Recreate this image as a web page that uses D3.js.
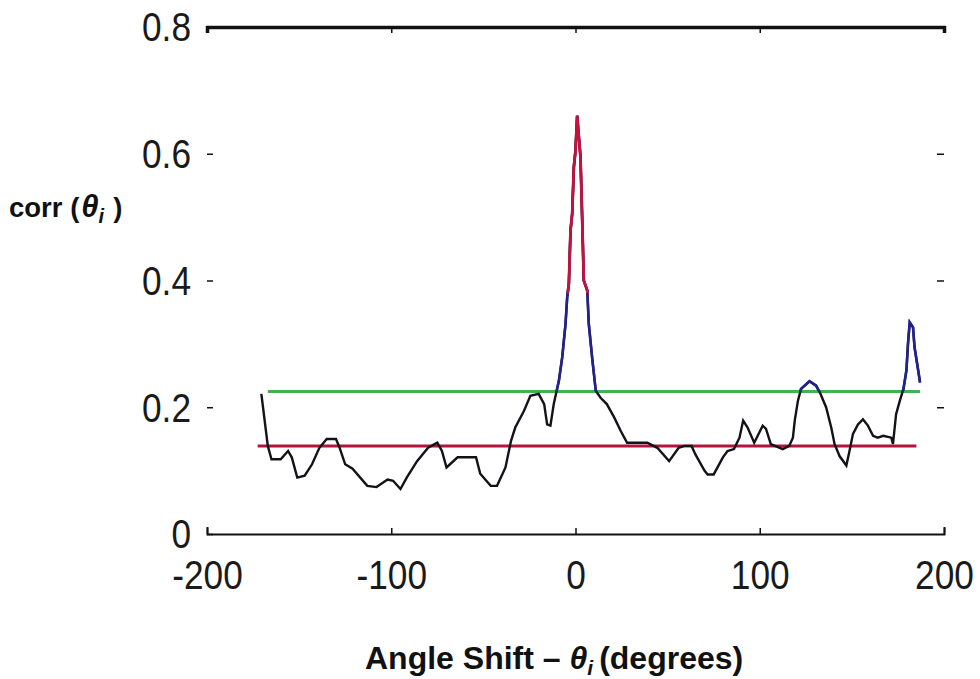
<!DOCTYPE html>
<html>
<head>
<meta charset="utf-8">
<script src="https://cdn.jsdelivr.net/npm/d3@7"></script>
<style>
  body { margin: 0; background: #fff; }
  svg { display: block; }
</style>
</head>
<body>
<div id="chart"></div>
<script>
// values
const angle = [
  -170.5, -167, -165, -160, -156, -154, -151, -147, -143, -139, -135, -130, -128, -125, -121,
  -113, -108, -102, -99, -95, -91.6, -86, -80, -75, -72.5, -70, -64, -54, -51.7, -46, -42.6,
  -38, -35, -32.7, -28, -24.5, -20, -17, -15.4, -13.6, -11.8, -9, -7.2, -5.4, -4.5, -3.6,
  -2.7, -1.8, -0.9, 0, 0.9, 2.7, 3.6, 4.5, 6.4, 7.2, 9, 11, 13.6, 17, 21, 24.5, 28, 39,
  44.4, 50.8, 56, 59, 63, 65, 70, 71.7, 75, 80, 82.5, 86, 89, 91, 93.4, 97, 101.6, 103.4,
  106, 112.5, 116, 118, 119, 120.7, 122.4, 127, 130.6, 133, 136, 138.8, 140.6, 143.3, 147,
  148.7, 150.6, 153.3, 156, 158.7, 161.5, 164, 167, 171.4, 172.3, 174, 176, 178, 179.6,
  180.5, 181.4, 183.2, 184, 186, 187
];
const corr = [
  0.221, 0.139, 0.118, 0.118, 0.131, 0.121, 0.089, 0.092, 0.110, 0.136, 0.150, 0.150, 0.136, 0.110, 0.103,
  0.076, 0.074, 0.086, 0.084, 0.071, 0.089, 0.115, 0.136, 0.144, 0.131, 0.105, 0.121, 0.121, 0.095, 0.076, 0.076,
  0.105, 0.147, 0.168, 0.194, 0.218, 0.221, 0.205, 0.173, 0.171, 0.205, 0.242, 0.279, 0.332, 0.374, 0.395,
  0.479, 0.505, 0.579, 0.605, 0.660, 0.595, 0.500, 0.400, 0.384, 0.332, 0.279, 0.226, 0.215, 0.205, 0.184, 0.163, 0.144, 0.144,
  0.136, 0.115, 0.136, 0.139, 0.139, 0.126, 0.100, 0.094, 0.094, 0.121, 0.131, 0.134, 0.152, 0.179, 0.168, 0.144, 0.171, 0.166,
  0.142, 0.134, 0.139, 0.152, 0.179, 0.210, 0.229, 0.241, 0.234, 0.221, 0.200, 0.168, 0.142, 0.123, 0.108,
  0.131, 0.158, 0.173, 0.181, 0.171, 0.155, 0.152, 0.155, 0.152, 0.142, 0.189, 0.210, 0.229, 0.258,
  0.302, 0.334, 0.326, 0.295, 0.258, 0.239
];

// horizontal reference levels (upper = green, lower = red)
const levelValues = [0.225, 0.139];
const levelStart = [-167, -172.5];
const levelEnd = [187, 185];
const levelColors = ["#3fb34f", "#b5123e"];
const peakLevel = 0.38;

const xTicks = [-200, -100, 0, 100, 200];
const xTickLabels = ["-200", "-100", "0", "100", "200"];
const yTicks = [0, 0.2, 0.4, 0.6, 0.8];
const yTickLabels = ["0", "0.2", "0.4", "0.6", "0.8"];

const W = 980, H = 679;
const m = { left: 207, right: 944, top: 27, bottom: 534 };

const svg = d3.select("#chart").append("svg")
  .attr("width", W).attr("height", H)
  .style("font-family", "'Liberation Sans', Arial, sans-serif");

const x = d3.scaleLinear().domain([-200, 200]).range([m.left, m.right]);
const y = d3.scaleLinear().domain([0, 0.8]).range([m.bottom, m.top]);

// axes
const xAxisB = d3.axisBottom(x).tickValues(xTicks).tickSize(-6).tickSizeOuter(-7)
  .tickFormat((d, i) => xTickLabels[i]);
const gxb = svg.append("g").attr("transform", "translate(0," + m.bottom + ")").call(xAxisB);
gxb.select(".domain").attr("stroke", "#111").attr("stroke-width", 2);
gxb.selectAll(".tick line").attr("stroke", "#111").attr("stroke-width", 1.5);
gxb.selectAll(".tick text")
  .attr("y", 0).attr("dy", 0)
  .attr("transform", "translate(0,55) scale(0.86,1)")
  .attr("font-size", 41).attr("fill", "#1a1a1a")
  .attr("font-family", "'Liberation Sans', Arial, sans-serif");

const xAxisT = d3.axisTop(x).tickValues(xTicks.slice(1, -1)).tickSize(-6).tickSizeOuter(-6)
  .tickFormat("");
const gxt = svg.append("g").attr("transform", "translate(0," + m.top + ")").call(xAxisT);
gxt.select(".domain").attr("stroke", "#111").attr("stroke-width", 3.5);
gxt.selectAll(".tick line").attr("stroke", "#111").attr("stroke-width", 1.5);

const yAxisL = d3.axisLeft(y).tickValues(yTicks).tickSize(-6)
  .tickFormat((d, i) => yTickLabels[i]);
const gyl = svg.append("g").attr("transform", "translate(" + m.left + ",0)").call(yAxisL);
gyl.select(".domain").remove();
gyl.selectAll(".tick line").attr("stroke", "#111").attr("stroke-width", 1.5);
gyl.selectAll(".tick text")
  .attr("x", null).attr("dy", "0.34em")
  .attr("transform", "translate(-16,0) scale(0.86,1)")
  .attr("font-size", 41).attr("fill", "#1a1a1a")
  .attr("font-family", "'Liberation Sans', Arial, sans-serif");

const yAxisR = d3.axisRight(y).tickValues(yTicks.slice(1, -1)).tickSize(-7).tickFormat("");
const gyr = svg.append("g").attr("transform", "translate(" + m.right + ",0)").call(yAxisR);
gyr.select(".domain").remove();
gyr.selectAll(".tick line").attr("stroke", "#111").attr("stroke-width", 1.5);

// reference levels
levelValues.forEach((v, i) => {
  svg.append("path")
    .attr("d", d3.line()([[x(levelStart[i]), y(v)], [x(levelEnd[i]), y(v)]]))
    .attr("stroke", levelColors[i])
    .attr("stroke-width", 3)
    .attr("fill", "none");
});

// correlation curve, recoloured above the green level and near the peak
const pts = angle.map((a, i) => [a, corr[i]]);
const line = d3.line().x(d => x(d[0])).y(d => y(d[1]));

const defs = svg.append("defs");
defs.append("clipPath").attr("id", "aboveUpper")
  .append("rect").attr("x", 0).attr("y", 0).attr("width", W).attr("height", y(levelValues[0]));
defs.append("clipPath").attr("id", "abovePeak")
  .append("rect").attr("x", 0).attr("y", 0).attr("width", W).attr("height", y(peakLevel));

svg.append("path").datum(pts)
  .attr("d", line).attr("fill", "none")
  .attr("stroke", "#121218").attr("stroke-width", 2.4);
svg.append("path").datum(pts)
  .attr("d", line).attr("fill", "none")
  .attr("clip-path", "url(#aboveUpper)")
  .attr("stroke", "#22228e").attr("stroke-width", 2.6);
svg.append("path").datum(pts)
  .attr("d", line).attr("fill", "none")
  .attr("clip-path", "url(#abovePeak)")
  .attr("stroke", "#c4123a").attr("stroke-width", 2.8);

// axis titles
const yt = svg.append("text")
  .attr("x", 9).attr("y", 217)
  .attr("font-size", 27.5).attr("font-weight", "bold").attr("fill", "#111");
yt.append("tspan").text("corr (");
yt.append("tspan").attr("dx", 2).attr("font-style", "italic").attr("font-size", 31).text("\u03b8");
yt.append("tspan").attr("font-style", "italic").attr("font-size", 20).attr("dy", 6).text("i");
yt.append("tspan").attr("dx", 9).attr("dy", -6).text(")");

const xt = svg.append("text")
  .attr("x", 365).attr("y", 669)
  .attr("font-size", 32).attr("font-weight", "bold").attr("fill", "#111");
xt.append("tspan").text("Angle Shift \u2013 ");
xt.append("tspan").attr("font-style", "italic").text("\u03b8");
xt.append("tspan").attr("font-style", "italic").attr("font-size", 21).attr("dy", 6).text("i");
xt.append("tspan").attr("dx", 6).attr("dy", -6).text("(degrees)");
</script>
</body>
</html>
